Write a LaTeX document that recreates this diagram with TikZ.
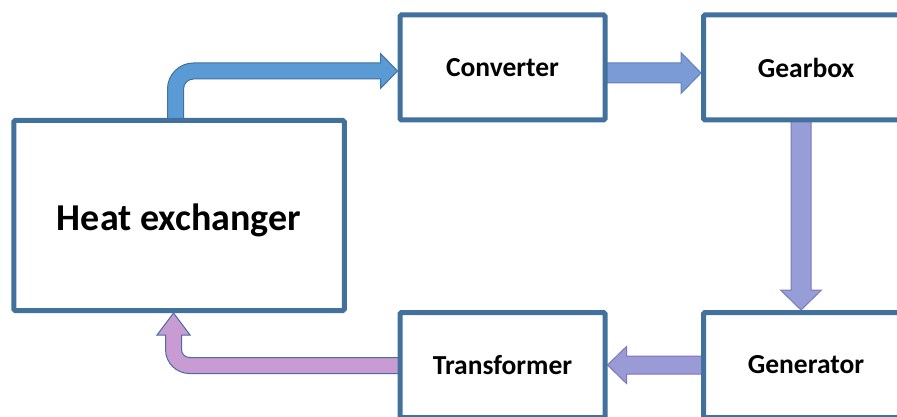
\documentclass[tikz,border=0pt]{standalone}
\usepackage{fontspec}
\setmainfont{Carlito}
\usetikzlibrary{calc}
\pgfdeclarelayer{bg}
\pgfsetlayers{bg,main}
\definecolor{boxblue}{RGB}{65,113,156}
\definecolor{aFill}{RGB}{91,155,213}
\definecolor{aLine}{RGB}{65,113,156}
\definecolor{bFill}{RGB}{122,155,213}
\definecolor{bLine}{RGB}{98,128,192}
\definecolor{cFill}{RGB}{151,157,214}
\definecolor{cLine}{RGB}{122,122,186}
\definecolor{dFill}{RGB}{154,155,214}
\definecolor{dLine}{RGB}{128,116,186}
\definecolor{eFill}{RGB}{200,155,211}
\definecolor{eLine}{RGB}{70,110,160}
\begin{document}
\begin{tikzpicture}[x=1pt,y=-1pt,
  box/.style={draw=boxblue, line width=5pt, fill=white, rounded corners=1.5pt,
    minimum width=205pt, minimum height=105pt, inner sep=0pt,
    font=\bfseries\fontsize{27.5}{30}\selectfont},
  bigbox/.style={box, minimum width=330.5pt, minimum height=190pt,
    text height=29.5pt, text depth=0pt,
    font=\bfseries\fontsize{38}{40}\selectfont},
  arA/.style={fill=aFill, draw=aLine, line width=1pt},
  arB/.style={fill=bFill, draw=bLine, line width=1pt},
  arC/.style={fill=cFill, draw=cLine, line width=1pt},
  arD/.style={fill=dFill, draw=dLine, line width=1pt},
  arE/.style={fill=eFill, draw=eLine, line width=1pt}]
\clip (0,0) rectangle (897,417);

\node[bigbox] (hx) at (179,215.5) {Heat exchanger};
\node[box] (conv) at (502.5,67.5) {Converter};
\node[box] (gear) at (806,67.5) {Gearbox};
\node[box] (trans) at (502.5,365) {Transformer};
\node[box] (gen) at (806,365) {Generator};

\coordinate (a1s) at ([xshift=-3.5pt]hx.north);
\coordinate (a1e) at ([yshift=-3.5pt]conv.west);
\coordinate (c1) at (a1s |- a1e);
\coordinate (s2) at ([yshift=-5.5pt]conv.east);
\coordinate (e2) at (s2 -| gear.west);
\coordinate (s3) at ([xshift=-5pt]gear.south);
\coordinate (e3) at (s3 |- gen.north);
\coordinate (s4) at (gen.west);
\coordinate (e4) at (s4 -| trans.east);
\coordinate (a5t) at ([xshift=-5.5pt]hx.south);
\coordinate (a5s) at ([yshift=-0.5pt]trans.west);
\coordinate (c5) at (a5t |- a5s);

\begin{pgfonlayer}{bg}
\fill[white] (0,0) rectangle (897,417);
% Heat exchanger -> Converter
\path[arA] ($(a1s)+(-8,3)$) -- ($(c1)+(-8,18)$)
  .. controls ($(c1)+(-8,3.64)$) and ($(c1)+(3.64,-8)$) .. ($(c1)+(18,-8)$)
  -- ($(a1e)+(-17,-8)$) -- ($(a1e)+(-17,-17.5)$) -- (a1e)
  -- ($(a1e)+(-17,17.5)$) -- ($(a1e)+(-17,8)$) -- ($(c1)+(18,8)$)
  .. controls ($(c1)+(12.48,8)$) and ($(c1)+(8,12.48)$) .. ($(c1)+(8,18)$)
  -- ($(a1s)+(8,3)$) -- cycle;
% Converter -> Gearbox
\path[arB] ($(s2)+(-3,-10)$) -- ($(e2)+(-20,-10)$) -- ($(e2)+(-20,-20.5)$) -- (e2)
  -- ($(e2)+(-20,20.5)$) -- ($(e2)+(-20,10)$) -- ($(s2)+(-3,10)$) -- cycle;
% Gearbox -> Generator
\path[arC] ($(s3)+(-10,-3)$) -- ($(e3)+(-10,-20)$) -- ($(e3)+(-20.5,-20)$) -- (e3)
  -- ($(e3)+(20.5,-20)$) -- ($(e3)+(10,-20)$) -- ($(s3)+(10,-3)$) -- cycle;
% Generator -> Transformer
\path[arD] ($(s4)+(3,-9)$) -- ($(e4)+(19,-9)$) -- ($(e4)+(19,-18.5)$) -- (e4)
  -- ($(e4)+(19,18.5)$) -- ($(e4)+(19,9)$) -- ($(s4)+(3,9)$) -- cycle;
% Transformer -> Heat exchanger
\path[arE] ($(a5s)+(3,-8)$) -- ($(c5)+(16,-8)$)
  .. controls ($(c5)+(11.58,-8)$) and ($(c5)+(8,-11.58)$) .. ($(c5)+(8,-16)$)
  -- ($(a5t)+(8,22)$) -- ($(a5t)+(16.5,22)$) -- (a5t)
  -- ($(a5t)+(-16.5,22)$) -- ($(a5t)+(-8,22)$) -- ($(c5)+(-8,-16)$)
  .. controls ($(c5)+(-8,-2.75)$) and ($(c5)+(2.75,8)$) .. ($(c5)+(16,8)$)
  -- ($(a5s)+(3,8)$) -- cycle;
\end{pgfonlayer}
\end{tikzpicture}
\end{document}
